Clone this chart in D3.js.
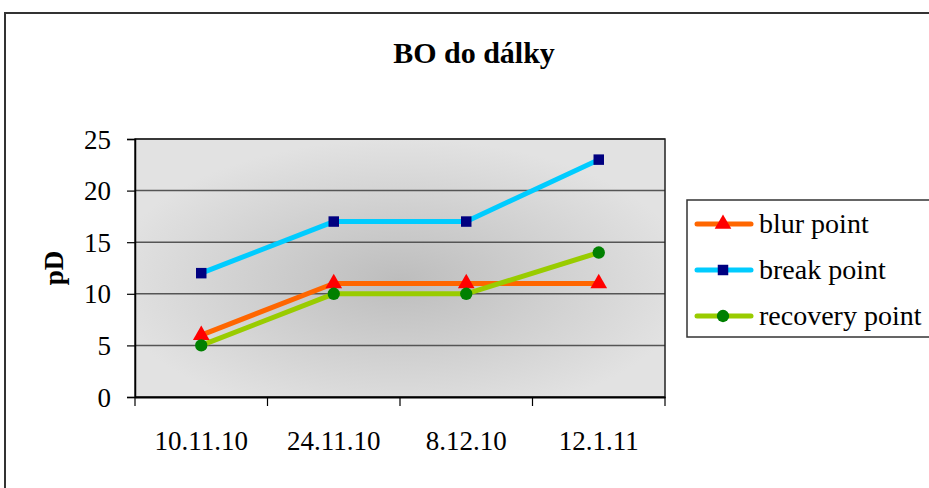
<!DOCTYPE html>
<html><head><meta charset="utf-8">
<script src="https://cdn.jsdelivr.net/npm/d3@7"></script>
<style>html,body{margin:0;padding:0;background:#fff;overflow:hidden}svg{display:block}svg text{font-family:"Liberation Serif","Times New Roman",serif !important;fill:#000}</style>
</head><body><svg id="c" width="929" height="488"></svg>
<script>
const categories = ["10.11.10", "24.11.10", "8.12.10", "12.1.11"];
const blurPoint = [6, 11, 11, 11];
const breakPoint = [12, 17, 17, 23];
const recoveryPoint = [5, 10, 10, 14];
const yTicks = [0, 5, 10, 15, 20, 25];
const seriesNames = ["blur point", "break point", "recovery point"];

const series = [
  {name: seriesNames[0], values: blurPoint, line: "#FF6600", mark: "#FF0000", shape: d3.symbolTriangle, size: 120},
  {name: seriesNames[1], values: breakPoint, line: "#00CCFF", mark: "#000080", shape: d3.symbolSquare, size: 110},
  {name: seriesNames[2], values: recoveryPoint, line: "#99CC00", mark: "#008000", shape: d3.symbolCircle, size: 120}
];

const svg = d3.select("#c");
const L = 135, R = 665, T = 139, B = 397;
const SERIF = "'Liberation Serif', 'Times New Roman', serif";

// outer border
svg.append("rect").attr("x", 5).attr("y", 13).attr("width", 940).attr("height", 500)
  .attr("fill", "none").attr("stroke", "#333").attr("stroke-width", 2);

// title
svg.append("text").attr("x", 474).attr("y", 63).attr("text-anchor", "middle")
  .style("font-family", SERIF)
  .attr("font-size", 30).attr("font-weight", "bold").text("BO do dálky");

const x = d3.scaleBand().domain(categories).range([L, R]).padding(0);
const y = d3.scaleLinear().domain([0, 25]).range([B, T]);

// background gradient
const defs = svg.append("defs");
const g = defs.append("radialGradient").attr("id", "bg").attr("cx", "0.5").attr("cy", "0.55").attr("r", "0.55");
g.append("stop").attr("offset", "0%").attr("stop-color", "#bdbdbd");
g.append("stop").attr("offset", "100%").attr("stop-color", "#e2e2e2");
svg.append("rect").attr("x", L).attr("y", T).attr("width", R - L).attr("height", B - T).attr("fill", "url(#bg)");

// gridlines
svg.append("g").selectAll("line").data(yTicks.filter(d => d > 0)).join("line")
  .attr("x1", L).attr("x2", R).attr("y1", d => y(d)).attr("y2", d => y(d))
  .attr("stroke", "#555").attr("stroke-width", 1.5);

// plot border
svg.append("rect").attr("x", L).attr("y", T).attr("width", R - L).attr("height", B - T)
  .attr("fill", "none").attr("stroke", "#222").attr("stroke-width", 1.5);

// y axis
const yAxis = d3.axisLeft(y).tickValues(yTicks).tickSize(8).tickPadding(16);
const ya = svg.append("g").attr("transform", `translate(${L},0)`).call(yAxis).attr("font-family", null);
ya.select(".domain").attr("stroke", "#000").attr("stroke-width", 1.5);
ya.selectAll(".tick line").attr("stroke", "#000").attr("stroke-width", 1.2);
ya.selectAll(".tick text").attr("font-size", 27).style("font-family", SERIF).attr("fill", "#000").attr("dy", "0.34em");

// x axis
const xAxis = d3.axisBottom(x).tickSize(0).tickPadding(34);
const xa = svg.append("g").attr("transform", `translate(0,${B})`).call(xAxis).attr("font-family", null);
xa.select(".domain").attr("stroke", "#000").attr("stroke-width", 2);
xa.selectAll(".tick text").attr("font-size", 27).style("font-family", SERIF).attr("fill", "#000");
// category boundary ticks
const bounds = categories.map(c => x(c)).concat([x(categories[categories.length - 1]) + x.bandwidth()]);
xa.append("g").selectAll("line").data(bounds).join("line")
  .attr("x1", d => d).attr("x2", d => d).attr("y1", 0).attr("y2", 9)
  .attr("stroke", "#000").attr("stroke-width", 1.2);

const cx = c => x(c) + x.bandwidth() / 2;
const line = d3.line().x((d, i) => cx(categories[i])).y(d => y(d));

series.forEach(s => {
  svg.append("path").datum(s.values).attr("d", line).attr("fill", "none")
    .attr("stroke", s.line).attr("stroke-width", 5).attr("stroke-linejoin", "round");
});
series.forEach(s => {
  svg.append("g").selectAll("path").data(s.values).join("path")
    .attr("d", d3.symbol().type(s.shape).size(s.size))
    .attr("transform", (d, i) => `translate(${cx(categories[i])},${y(d)})`)
    .attr("fill", s.mark);
});

// y title
svg.append("text").attr("transform", "translate(63,268) rotate(-90)").attr("text-anchor", "middle")
  .style("font-family", SERIF)
  .attr("font-size", 27).attr("font-weight", "bold").text("pD");

// legend
svg.append("rect").attr("x", 687).attr("y", 200).attr("width", 260).attr("height", 137)
  .attr("fill", "#fff").attr("stroke", "#333").attr("stroke-width", 1.5);
const lg = svg.append("g").selectAll("g").data(series).join("g")
  .attr("transform", (d, i) => `translate(0,${224 + i * 46})`);
lg.append("line").attr("x1", 697).attr("x2", 751).attr("y1", 0).attr("y2", 0)
  .attr("stroke", d => d.line).attr("stroke-width", 5).attr("stroke-linecap", "round");
lg.append("path").attr("d", d => d3.symbol().type(d.shape).size(d.size)())
  .attr("transform", "translate(723,0)").attr("fill", d => d.mark);
lg.append("text").attr("x", 759).attr("y", 0).attr("dy", "0.32em").style("font-family", SERIF)
  .attr("font-size", 28).text(d => d.name);
</script></body></html>
